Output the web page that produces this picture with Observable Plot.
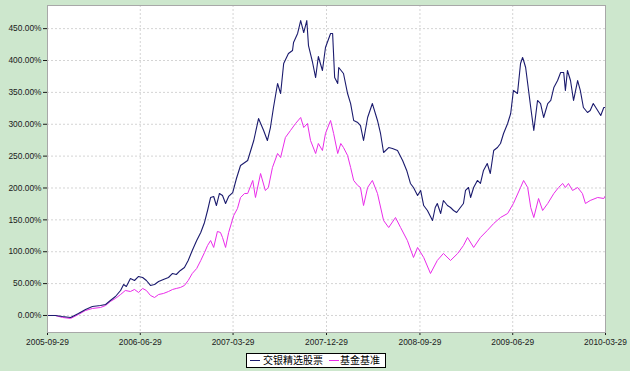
<!DOCTYPE html>
<html>
<head>
<meta charset="utf-8">
<script src="https://cdn.jsdelivr.net/npm/d3@7"></script>
<script src="https://cdn.jsdelivr.net/npm/@observablehq/plot@0.6"></script>
<style>
  html, body { margin: 0; padding: 0; background: #cde7cd; }
  #wrap { position: relative; width: 630px; height: 371px; overflow: hidden; }
  #legend { position: absolute; left: 246px; top: 353px; width: 138px; height: 13px;
    border: 1px solid #000; background: #fff; font: 10px "Noto Sans CJK SC", sans-serif; color: #000; }
  #legend .sw { position: absolute; top: 6px; width: 10px; height: 1px; }
  #legend .tx { position: absolute; top: -1px; line-height: 14px; white-space: nowrap; }
</style>
</head>
<body>
<div id="wrap"><div id="chart"></div>
<div id="legend">
  <span class="sw" id="sw1" style="left:3px"></span><span class="tx" id="t1" style="left:16px"></span>
  <span class="sw" id="sw2" style="left:82px"></span><span class="tx" id="t2" style="left:93px"></span>
</div></div>
<script>
const seriesNames = ["交银精选股票", "基金基准"];
const seriesColors = ["#1b1b6e", "#ea2cea"];
const xTickLabels = ["2005-09-29","2006-06-29","2007-03-29","2007-12-29","2008-09-29","2009-06-29","2010-03-29"];
const yTickValues = [0,50,100,150,200,250,300,350,400,450];

const fundDates = ["2005-09-29","2005-10-22","2005-11-12","2005-12-06","2005-12-29","2006-01-19","2006-02-08","2006-03-04","2006-03-19","2006-04-02","2006-04-17","2006-05-02","2006-05-11","2006-05-19","2006-05-31","2006-06-12","2006-06-24","2006-07-06","2006-07-17","2006-07-29","2006-08-10","2006-08-22","2006-09-05","2006-09-20","2006-10-02","2006-10-13","2006-10-25","2006-11-06","2006-11-17","2006-11-29","2006-12-12","2006-12-24","2007-01-04","2007-01-13","2007-01-22","2007-01-31","2007-02-08","2007-02-17","2007-02-26","2007-03-07","2007-03-16","2007-03-28","2007-04-08","2007-04-20","2007-05-11","2007-05-29","2007-06-12","2007-06-27","2007-07-08","2007-07-17","2007-07-26","2007-08-07","2007-08-16","2007-08-25","2007-09-08","2007-09-20","2007-09-23","2007-10-05","2007-10-14","2007-10-23","2007-11-01","2007-11-06","2007-11-18","2007-11-27","2007-12-05","2007-12-17","2007-12-26","2008-01-10","2008-01-16","2008-01-22","2008-01-31","2008-02-03","2008-02-17","2008-02-29","2008-03-09","2008-03-18","2008-03-30","2008-04-07","2008-04-16","2008-04-28","2008-05-12","2008-05-27","2008-06-05","2008-06-14","2008-06-29","2008-07-10","2008-07-25","2008-08-09","2008-08-21","2008-09-01","2008-09-10","2008-09-22","2008-10-01","2008-10-10","2008-10-21","2008-11-05","2008-11-13","2008-11-19","2008-11-29","2008-12-07","2008-12-19","2008-12-28","2009-01-06","2009-01-15","2009-01-26","2009-02-04","2009-02-10","2009-02-19","2009-02-25","2009-03-06","2009-03-17","2009-03-26","2009-04-04","2009-04-15","2009-04-24","2009-05-04","2009-05-15","2009-05-24","2009-06-02","2009-06-14","2009-06-23","2009-07-01","2009-07-13","2009-07-22","2009-07-28","2009-07-31","2009-08-06","2009-08-12","2009-08-21","2009-08-30","2009-09-10","2009-09-19","2009-09-28","2009-10-10","2009-10-19","2009-10-28","2009-11-08","2009-11-17","2009-11-26","2009-12-01","2009-12-07","2009-12-16","2009-12-25","2010-01-06","2010-01-14","2010-01-23","2010-02-04","2010-02-12","2010-02-21","2010-03-06","2010-03-15","2010-03-24","2010-03-29"];
const fundValues = [0,0,-1.6,-3.1,3.1,9.4,14.1,15.7,17.3,23.5,29.8,39.2,48.6,45.5,58.0,54.9,61.2,59.6,54.9,47.1,48.6,53.3,56.5,59.6,65.9,64.3,70.6,75.3,86.3,102.0,117.6,130.2,145.9,164.7,185.1,186.7,172.5,191.4,188.2,175.7,186.7,192.9,214.9,235.3,243.1,274.5,309.0,290.2,274.5,294.9,326.3,363.9,348.2,395.3,411.0,415.7,428.2,442.4,462.7,443.9,462.7,423.5,396.9,373.3,406.3,384.3,420.4,442.4,442.4,373.3,363.9,389.0,379.6,348.2,332.5,305.9,302.7,298.0,274.5,310.6,332.5,305.9,285.5,255.7,263.5,262.0,258.8,243.1,227.5,207.1,200.8,188.2,196.1,172.5,164.7,149.0,169.4,175.7,160.0,180.4,172.5,169.4,164.7,161.6,169.4,175.7,196.1,200.8,185.1,200.8,211.8,207.1,227.5,238.4,222.7,258.8,263.5,269.8,285.5,301.2,316.9,352.9,348.2,395.3,404.7,400.0,389.0,363.9,326.3,290.2,337.3,332.5,310.6,332.5,337.3,357.6,368.6,381.2,381.2,352.9,384.3,368.6,337.3,368.6,352.9,326.3,318.4,321.6,332.5,321.6,313.7,326.3,326.3];

const benchDates = ["2005-09-29","2005-10-22","2005-11-12","2005-12-06","2005-12-29","2006-01-19","2006-02-08","2006-03-04","2006-03-19","2006-04-02","2006-04-17","2006-05-02","2006-05-16","2006-05-31","2006-06-12","2006-06-24","2006-07-06","2006-07-17","2006-07-29","2006-08-10","2006-08-22","2006-09-05","2006-09-20","2006-10-02","2006-10-13","2006-10-25","2006-11-06","2006-11-17","2006-11-29","2006-12-12","2006-12-24","2007-01-04","2007-01-13","2007-01-22","2007-01-31","2007-02-11","2007-02-20","2007-02-26","2007-03-07","2007-03-16","2007-03-31","2007-04-11","2007-04-20","2007-05-02","2007-05-11","2007-05-26","2007-06-03","2007-06-18","2007-07-02","2007-07-11","2007-07-23","2007-08-07","2007-08-16","2007-08-30","2007-09-14","2007-09-29","2007-10-14","2007-10-23","2007-11-03","2007-11-12","2007-11-27","2007-12-05","2007-12-17","2007-12-26","2008-01-10","2008-01-19","2008-01-31","2008-02-09","2008-02-17","2008-02-29","2008-03-09","2008-03-18","2008-03-30","2008-04-07","2008-04-16","2008-04-28","2008-05-12","2008-05-27","2008-06-14","2008-06-29","2008-07-19","2008-08-03","2008-08-23","2008-09-10","2008-09-22","2008-10-10","2008-10-30","2008-11-19","2008-12-07","2008-12-28","2009-01-18","2009-02-04","2009-02-16","2009-03-06","2009-03-26","2009-04-15","2009-05-04","2009-05-24","2009-06-14","2009-07-01","2009-07-22","2009-07-31","2009-08-12","2009-08-21","2009-08-30","2009-09-13","2009-09-25","2009-10-10","2009-10-28","2009-11-11","2009-11-23","2009-12-01","2009-12-10","2009-12-22","2010-01-06","2010-01-20","2010-01-29","2010-02-12","2010-03-06","2010-03-24","2010-03-29"];
const benchValues = [0,0,-3.1,-4.7,1.6,7.8,11.0,12.5,15.7,22.0,26.7,32.9,39.2,37.6,40.8,36.1,42.4,39.2,31.4,28.2,32.9,34.5,37.6,40.8,42.4,43.9,47.1,54.9,65.9,73.7,86.3,98.8,109.8,117.6,106.7,131.8,130.2,122.4,106.7,130.2,156.9,167.8,185.1,191.4,191.4,211.8,185.1,222.7,196.1,200.8,232.2,254.1,247.8,279.2,290.2,301.2,310.6,294.9,301.2,274.5,254.1,269.8,258.8,285.5,305.9,285.5,254.1,269.8,263.5,251.0,232.2,211.8,203.9,200.8,172.5,200.8,211.8,191.4,149.0,138.0,153.7,138.0,117.6,91.0,106.7,91.0,65.9,86.3,97.3,86.3,97.3,109.8,122.4,106.7,122.4,133.3,144.3,153.7,160.0,175.7,200.8,211.8,200.8,169.4,153.7,183.5,164.7,175.7,191.4,200.8,207.1,200.8,207.1,196.1,200.8,191.4,175.7,180.4,185.1,183.5,188.2];

const parse = d3.utcParse("%Y-%m-%d");
const fund = fundDates.map((d, i) => ({date: parse(d), value: fundValues[i]}));
const bench = benchDates.map((d, i) => ({date: parse(d), value: benchValues[i]}));
const xTicks = xTickLabels.map(parse);
const innerTicks = xTicks.slice(1, -1);

const chart = Plot.plot({
  width: 630,
  height: 350,
  marginLeft: 47,
  marginRight: 25,
  marginTop: 5,
  marginBottom: 18,
  style: {background: "transparent", fontFamily: "'Liberation Sans', Arial, sans-serif", fontSize: "8.4px", color: "#1a1a1a"},
  x: {type: "utc", domain: [xTicks[0], xTicks[xTicks.length - 1]], ticks: xTicks,
      tickFormat: d3.utcFormat("%Y-%m-%d"), tickSize: 3, tickPadding: 4, label: null},
  y: {domain: [-26.7, 486.3], ticks: yTickValues, tickFormat: d => d.toFixed(2) + "%",
      tickSize: 4, tickPadding: 2, label: null},
  marks: [
    Plot.frame({fill: "white", stroke: null}),
    Plot.ruleX(innerTicks, {stroke: "#d4d4d4", strokeDasharray: "2,2"}),
    Plot.ruleY(yTickValues, {stroke: "#d4d4d4", strokeDasharray: "2,2"}),
    Plot.line(bench, {x: "date", y: "value", stroke: seriesColors[1], strokeWidth: 1}),
    Plot.line(fund, {x: "date", y: "value", stroke: seriesColors[0], strokeWidth: 1.1}),
    Plot.frame({stroke: "#a8a8a8"})
  ]
});
document.getElementById("chart").appendChild(chart);
document.getElementById("t1").textContent = seriesNames[0];
document.getElementById("t2").textContent = seriesNames[1];
document.getElementById("sw1").style.background = seriesColors[0];
document.getElementById("sw2").style.background = seriesColors[1];
</script>
</body>
</html>
